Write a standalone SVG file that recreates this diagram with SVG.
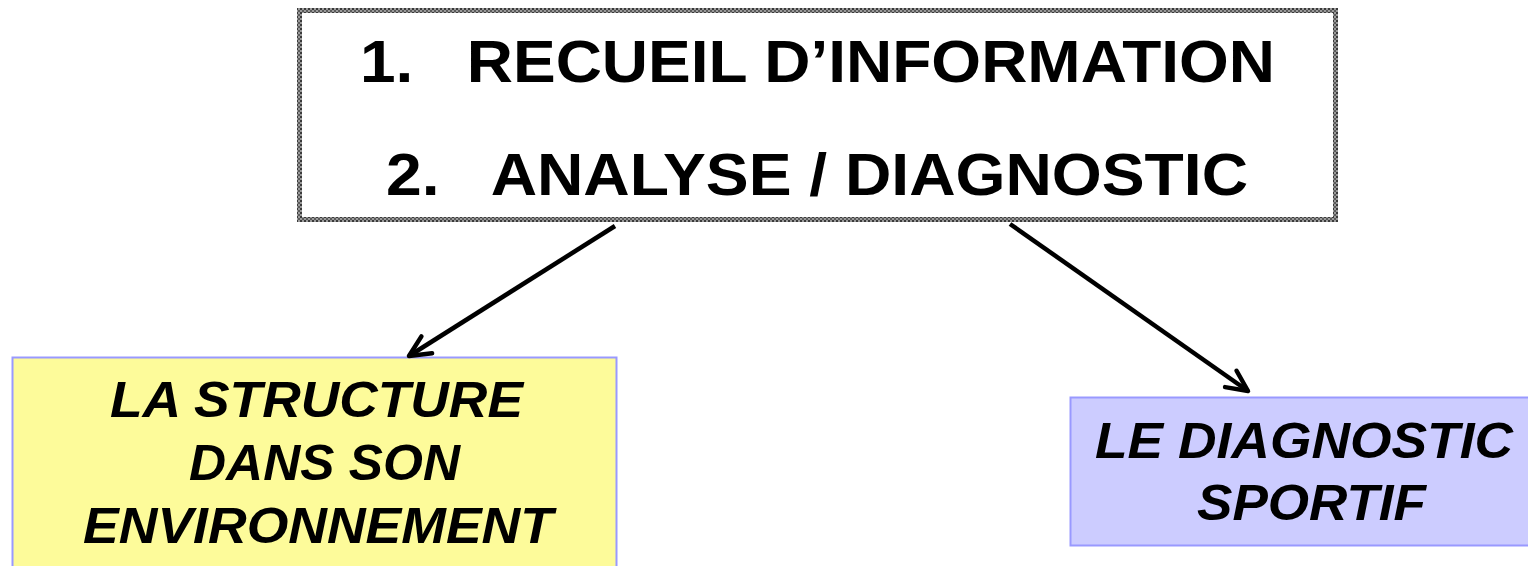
<svg xmlns="http://www.w3.org/2000/svg" width="1528" height="566" viewBox="0 0 1528 566">
  <defs>
    <pattern id="hatch" width="4" height="4" patternUnits="userSpaceOnUse">
      <rect width="4" height="4" fill="#9a9a9a"/>
      <rect width="2" height="2" fill="#3a3a3a"/>
      <rect x="2" y="2" width="2" height="2" fill="#5a5a5a"/>
    </pattern>
    <marker id="open" viewBox="0 0 28 28" refX="25" refY="14" markerWidth="28" markerHeight="28" markerUnits="userSpaceOnUse" orient="auto">
      <path d="M4,4 L25,14 L4,24" fill="none" stroke="#000" stroke-width="4.5" stroke-linecap="round" stroke-linejoin="round"/>
    </marker>
    <style>
      .title { font-family: "Liberation Sans", Arial, sans-serif; font-weight: bold; font-size: 60px; fill: #000; }
      .lab { font-family: "Liberation Sans", Arial, sans-serif; font-weight: bold; font-style: italic; font-size: 50px; fill: #000; }
      .conn { stroke: #000; stroke-width: 4.5; fill: none; marker-end: url(#open); }
    </style>
  </defs>
  <rect width="1528" height="566" fill="#fff"/>

  <g id="steps">
    <rect x="299.5" y="10.5" width="1036" height="209" fill="#fff" stroke="url(#hatch)" stroke-width="5"/>
    <text class="title" x="360" y="82" textLength="915" lengthAdjust="spacingAndGlyphs" xml:space="preserve">1.   RECUEIL D’INFORMATION</text>
    <text class="title" x="386" y="195" textLength="862" lengthAdjust="spacingAndGlyphs" xml:space="preserve">2.   ANALYSE / DIAGNOSTIC</text>
  </g>

  <g id="structure">
    <rect x="12.5" y="357.5" width="604" height="215" fill="#fdfb9a" stroke="#9999ff" stroke-width="2"/>
    <text class="lab" x="110" y="417" textLength="413" lengthAdjust="spacingAndGlyphs">LA STRUCTURE</text>
    <text class="lab" x="189" y="480" textLength="271" lengthAdjust="spacingAndGlyphs">DANS SON</text>
    <text class="lab" x="83" y="543" textLength="470" lengthAdjust="spacingAndGlyphs">ENVIRONNEMENT</text>
  </g>

  <g id="sportif">
    <rect x="1070.5" y="397.5" width="464" height="148" fill="#ccccff" stroke="#9999ff" stroke-width="2"/>
    <text class="lab" x="1095" y="458" textLength="418" lengthAdjust="spacingAndGlyphs">LE DIAGNOSTIC</text>
    <text class="lab" x="1197" y="520" textLength="229" lengthAdjust="spacingAndGlyphs">SPORTIF</text>
  </g>

  <g id="connectors">
    <line class="conn" x1="615" y1="226" x2="409" y2="356"/>
    <line class="conn" x1="1010" y1="224" x2="1248" y2="391"/>
  </g>
</svg>
